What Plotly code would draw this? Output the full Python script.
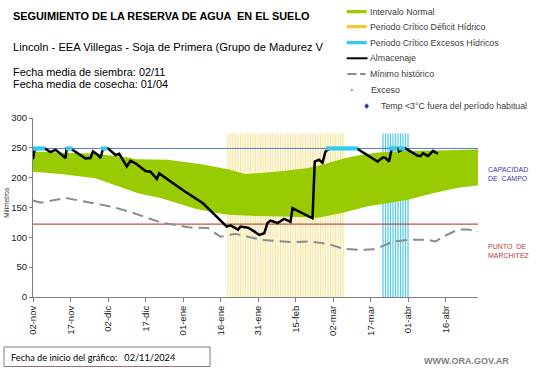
import pandas as pd
import plotly.graph_objects as go

# ---------------- data ----------------
start_date = "2024-11-02"
axis_days = 178  # x range length in days

tick_dates = ["2024-11-02", "2024-11-17", "2024-12-02", "2024-12-17", "2025-01-01", "2025-01-16",
              "2025-01-31", "2025-02-15", "2025-03-02", "2025-03-17", "2025-04-01", "2025-04-16"]
tick_labels = ["02-nov", "17-nov", "02-dic", "17-dic", "01-ene", "16-ene",
               "31-ene", "15-feb", "02-mar", "17-mar", "01-abr", "16-abr"]
y_ticks = [0, 50, 100, 150, 200, 250, 300]

capacidad_campo = 249
punto_marchitez = 122

# Intervalo normal (upper / lower bounds), days since start
normal_up_days = [0, 11, 25, 38, 41, 54, 68, 78, 85, 91, 100, 110, 116, 125, 131, 138, 152, 165, 178]
normal_up_mm = [244, 242, 240, 234, 231, 230, 222, 214, 206, 208, 211, 216, 222, 233, 238, 242, 245, 246, 247]
normal_lo_days = [0, 11, 25, 38, 42, 51, 65, 73, 78, 87, 100, 114, 124, 134, 140, 150, 160, 170, 178]
normal_lo_mm = [210, 206, 199, 180, 174, 166, 148, 141, 138, 136, 135, 133, 141, 152, 156, 163, 174, 183, 187]

# Almacenaje
alm_days = [0, 0.7, 4, 5, 7, 9, 13, 13.5, 15, 21, 23, 24, 26, 27, 28, 30, 33, 34.5, 37.5, 39,
            41, 45, 47, 49.5, 50.5, 60, 68, 74, 77.5, 79, 80.5, 82, 83, 86, 88.5, 90.5, 92.5, 93.8,
            95, 97.8, 99, 100.4, 102, 103, 103.8, 111.8, 112.7, 114.4, 115.8, 117, 118.4, 119,
            129.5, 137.8, 140, 141, 142.4, 143.5, 146, 146.4, 147.7, 149, 153.7, 155, 156, 158, 160, 162]
alm_mm = [231, 249, 249, 248, 243, 247, 233, 249, 249, 232, 233, 244, 238, 233, 249, 249, 238, 240, 219, 228,
          224, 211, 210, 198, 207, 179, 157, 132, 118, 120, 116, 113, 118, 116, 110, 104, 107, 124,
          128, 124, 127, 131, 128, 126, 149, 132, 227, 230, 225, 244, 248, 249,
          249, 227, 234, 233, 227, 249, 249, 244, 247, 249, 237, 236, 241, 236, 245, 240]

# Minimo historico
min_days = [0, 3, 13, 25, 32, 40, 51, 62, 70, 75, 81, 88, 91, 100, 104, 111, 118, 124, 131, 137,
            144, 151, 158, 161, 164, 170, 174, 178]
min_mm = [162, 158, 166, 156, 151, 141, 125, 117, 115.5, 101, 106, 99, 96, 93, 92, 93, 89, 81, 79, 80,
          93, 96, 96, 93, 101, 113, 113, 110]

# Exceso (days with excess, at field capacity)
exceso_days = [0, 1, 2, 3, 4, 14, 15, 28, 29, 118, 119, 120, 121, 122, 123, 124, 125, 126, 127, 128, 129,
               143, 144, 145, 147, 148]

# Critical periods
deficit_start, deficit_end = "2025-01-19", "2025-03-06"
excesos_start, excesos_end = "2025-03-22", "2025-04-01"
periodo_bar_mm = 274

# ---------------- helpers ----------------
t0 = pd.Timestamp(start_date)
t_end = t0 + pd.Timedelta(days=axis_days)


def to_dates(days):
    return [t0 + pd.Timedelta(days=float(d)) for d in days]


W, H = 541, 368
L, R, T, B = 33, 478, 118, 297


def px(x):
    return (x - L) / (R - L)


def py(y):
    return (B - y) / (B - T)


FONT = "Liberation Sans, Arial, sans-serif"

fig = go.Figure()

# Intervalo normal band
fig.add_trace(go.Scatter(
    x=to_dates(normal_up_days) + to_dates(normal_lo_days)[::-1],
    y=normal_up_mm + normal_lo_mm[::-1],
    fill="toself", fillcolor="#99CC00", mode="lines",
    line=dict(width=0, color="#99CC00"), hoverinfo="skip"))

# Critical periods as thin daily bars
day_ms = 86400000
deficit_dates = pd.date_range(deficit_start, deficit_end, freq="D")
excesos_dates = pd.date_range(excesos_start, excesos_end, freq="D")
fig.add_trace(go.Bar(x=deficit_dates, y=[periodo_bar_mm] * len(deficit_dates),
                     width=0.5 * day_ms, marker=dict(color="rgba(240,205,50,0.5)", line=dict(width=0))))
fig.add_trace(go.Bar(x=excesos_dates, y=[periodo_bar_mm] * len(excesos_dates),
                     width=0.5 * day_ms, marker=dict(color="rgba(40,190,230,0.8)", line=dict(width=0))))

# Reference lines
fig.add_trace(go.Scatter(x=[t0, t_end], y=[capacidad_campo] * 2, mode="lines",
                         line=dict(color="#4F7BD0", width=1)))
fig.add_trace(go.Scatter(x=[t0, t_end], y=[punto_marchitez] * 2, mode="lines",
                         line=dict(color="#C0504D", width=1.2)))

# Minimo historico
fig.add_trace(go.Scatter(x=to_dates(min_days), y=min_mm, mode="lines",
                         line=dict(color="#8C8C8C", width=2, dash="11px,6px")))

# Almacenaje
fig.add_trace(go.Scatter(x=to_dates(alm_days), y=alm_mm, mode="lines",
                         line=dict(color="black", width=2.5)))

# Exceso markers
fig.add_trace(go.Scatter(x=to_dates(exceso_days), y=[capacidad_campo] * len(exceso_days), mode="markers",
                         marker=dict(symbol="square", size=4, color="#33CCEE", line=dict(width=0))))

fig.update_layout(
    width=W, height=H, margin=dict(l=L, r=W - R, t=T, b=H - B),
    paper_bgcolor="white", plot_bgcolor="white", showlegend=False,
    font=dict(family=FONT, color="black"),
    barmode="overlay",
    xaxis=dict(type="date", range=[t0, t_end], tickvals=tick_dates, ticktext=tick_labels,
               tickangle=-90, ticks="outside", ticklen=4, tickcolor="#7f7f7f",
               showline=True, linecolor="#7f7f7f", linewidth=1, showgrid=False, zeroline=False,
               tickfont=dict(size=9.5, family=FONT, color="#222")),
    yaxis=dict(range=[0, 300], tickvals=y_ticks, ticks="outside", ticklen=3, tickcolor="#7f7f7f",
               showline=True, linecolor="#7f7f7f", linewidth=1, showgrid=False, zeroline=False,
               tickfont=dict(size=9.5, family=FONT, color="#222")),
)

ann = []


def text(x, y, s, size, color="black", anchor="left", **kw):
    ann.append(dict(x=px(x), y=py(y), xref="paper", yref="paper", text=s, showarrow=False,
                    xanchor=anchor, yanchor="middle", font=dict(size=size, color=color, family=kw.pop("family", FONT)),
                    align="left", borderpad=0, **kw))


text(12, 16, "<b>SEGUIMIENTO DE LA RESERVA DE AGUA  EN EL SUELO</b>", 10.9)
text(12, 46.5, "Lincoln - EEA Villegas - Soja de Primera (Grupo de Madurez V", 11.2)
text(12, 72, "Fecha media de siembra: 02/11", 10.9)
text(12, 84, "Fecha media de cosecha: 01/04", 10.9)

# legend
leg_font = 8.8
leg_col = "#404040"
text(369, 11.7, "Intervalo Normal", leg_font, leg_col)
text(369, 26.7, "Periodo Crítico Déficit Hídrico", leg_font, leg_col)
text(369, 42.7, "Periodo Crítico Excesos Hídricos", leg_font, leg_col)
text(369, 58.3, "Almacenaje", leg_font, leg_col)
text(369, 74, "Mínimo histórico", leg_font, leg_col)
text(370, 90, "Exceso", leg_font, leg_col)
text(380, 106, "Temp <3°C fuera del período habitual", leg_font, leg_col)
text(366.7, 106, "♦", 8, "#1F3C9C", anchor="center", family="DejaVu Sans")

# side labels
text(486.5, 174, "CAPACIDAD<br>DE  CAMPO", 7, "#3A3AA8")
text(487.5, 250.5, "PUNTO  DE<br>MARCHITEZ", 7, "#B83C3C")
ann.append(dict(x=px(6.3), y=py(202.5), xref="paper", yref="paper", text="Milímetros", showarrow=False,
                textangle=-90, xanchor="center", yanchor="middle", font=dict(size=6.5, color="#333", family=FONT)))

# footer
text(10, 357, "Fecha de inicio del gráfico:\u00a0\u00a0 02/11/2024", 9.2, "black", family="Lato, Carlito, sans-serif")
text(422.7, 360.5, "<b>WWW.ORA.GOV.AR</b>", 9, "#808080")

fig.update_layout(annotations=ann)

shapes = [
    dict(type="rect", xref="paper", yref="paper", x0=px(346.7), x1=px(366.7), y0=py(13.3), y1=py(10),
         fillcolor="#99CC00", line=dict(width=0)),
    dict(type="rect", xref="paper", yref="paper", x0=px(346.7), x1=px(366.7), y0=py(28.3), y1=py(25),
         fillcolor="#F8C630", line=dict(width=0)),
    dict(type="rect", xref="paper", yref="paper", x0=px(346.7), x1=px(366.7), y0=py(44.3), y1=py(41),
         fillcolor="#33CCEE", line=dict(width=0)),
    dict(type="line", xref="paper", yref="paper", x0=px(346.7), x1=px(367.5), y0=py(58.3), y1=py(58.3),
         line=dict(color="black", width=2)),
    dict(type="line", xref="paper", yref="paper", x0=px(347.3), x1=px(356.5), y0=py(74), y1=py(74),
         line=dict(color="#8C8C8C", width=2)),
    dict(type="line", xref="paper", yref="paper", x0=px(360), x1=px(365.5), y0=py(74), y1=py(74),
         line=dict(color="#8C8C8C", width=2)),
    dict(type="circle", xref="paper", yref="paper", x0=px(350.5), x1=px(353), y0=py(91.2), y1=py(88.8),
         fillcolor="#33CCEE", line=dict(width=0)),
    dict(type="rect", xref="paper", yref="paper", x0=px(4), x1=px(210), y0=py(366.5), y1=py(347),
         fillcolor="rgba(0,0,0,0)", line=dict(color="#8F7777", width=1)),
]
fig.update_layout(shapes=shapes)

fig.write_html("out.html", config={"displayModeBar": False},
               post_script="document.body.style.margin='0';document.body.style.overflow='hidden';")
